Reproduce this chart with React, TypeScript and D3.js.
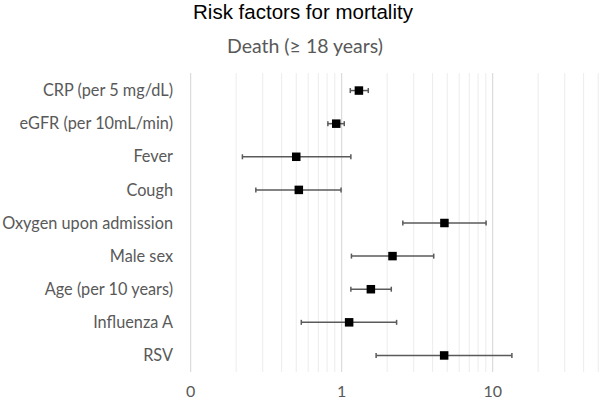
import React from "react";
import * as d3 from "d3";

const categories = [
  "CRP (per 5 mg/dL)",
  "eGFR (per 10mL/min)",
  "Fever",
  "Cough",
  "Oxygen upon admission",
  "Male sex",
  "Age (per 10 years)",
  "Influenza A",
  "RSV",
];
const estimates = [1.3, 0.92, 0.5, 0.52, 4.79, 2.17, 1.56, 1.12, 4.77];
const lowers = [1.14, 0.81, 0.22, 0.27, 2.54, 1.16, 1.15, 0.54, 1.69];
const uppers = [1.5, 1.04, 1.15, 0.99, 9.04, 4.07, 2.13, 2.31, 13.4];
const majorTicks = [0.1, 1, 10];
const tickLabels = ["0", "1", "10"];
const minorTicks = [
  0.2, 0.3, 0.4, 0.5, 0.6, 0.7, 0.8, 0.9,
  2, 3, 4, 5, 6, 7, 8, 9,
  20, 30, 40, 50, 60, 70, 80, 90,
];

const W = 599;
const H = 401;
const labelFont = "Lato, 'Open Sans', sans-serif";

export default function App() {
  const x = d3.scaleLog().domain([0.1, 100]).range([190.7, 190.7 + 3 * 151]);
  const y = d3.scaleBand<string>().domain(categories).range([74, 372]).padding(0);
  const gridTop = 73;
  const gridBottom = 372;
  const cap = 2.5;
  const sq = 8.5;

  return (
    <svg
      width={W}
      height={H}
      style={{ position: "absolute", left: 0, top: 0, background: "#fff" }}
    >
      <rect x={0} y={0} width={W} height={H} fill="#fff" />
      <text
        x={303}
        y={18.5}
        textAnchor="middle"
        fontFamily="'Liberation Sans', Arial, sans-serif"
        fontSize={20.5}
        fill="#000"
      >
        Risk factors for mortality
      </text>
      <text
        x={305}
        y={53}
        textAnchor="middle"
        fontFamily={labelFont}
        fontSize={19.5}
        fill="#595959"
      >
        Death (≥ 18 years)
      </text>
      {minorTicks.map((t) => (
        <line
          key={"m" + t}
          x1={x(t)}
          x2={x(t)}
          y1={gridTop}
          y2={gridBottom}
          stroke="#ececec"
          strokeWidth={1}
        />
      ))}
      {majorTicks.map((t) => (
        <line
          key={"M" + t}
          x1={x(t)}
          x2={x(t)}
          y1={gridTop}
          y2={gridBottom}
          stroke="#d4d4d4"
          strokeWidth={1}
        />
      ))}
      {majorTicks.map((t, i) => (
        <text
          key={"t" + t}
          x={x(t)}
          y={397}
          textAnchor="middle"
          fontFamily={labelFont}
          fontSize={16}
          fill="#595959"
        >
          {tickLabels[i]}
        </text>
      ))}
      {categories.map((c, i) => {
        const cy = (y(c) as number) + y.bandwidth() / 2;
        const xl = x(lowers[i]);
        const xu = x(uppers[i]);
        const xe = x(estimates[i]);
        return (
          <g key={c}>
            <text
              x={173}
              y={cy}
              dy="0.35em"
              textAnchor="end"
              fontFamily={labelFont}
              fontSize={16.3}
              fill="#595959"
            >
              {c}
            </text>
            <line x1={xl} x2={xu} y1={cy} y2={cy} stroke="#5a5a5a" strokeWidth={1.5} />
            <line x1={xl} x2={xl} y1={cy - cap} y2={cy + cap} stroke="#5a5a5a" strokeWidth={1.5} />
            <line x1={xu} x2={xu} y1={cy - cap} y2={cy + cap} stroke="#5a5a5a" strokeWidth={1.5} />
            <rect x={xe - sq / 2} y={cy - sq / 2} width={sq} height={sq} fill="#000" />
          </g>
        );
      })}
    </svg>
  );
}
